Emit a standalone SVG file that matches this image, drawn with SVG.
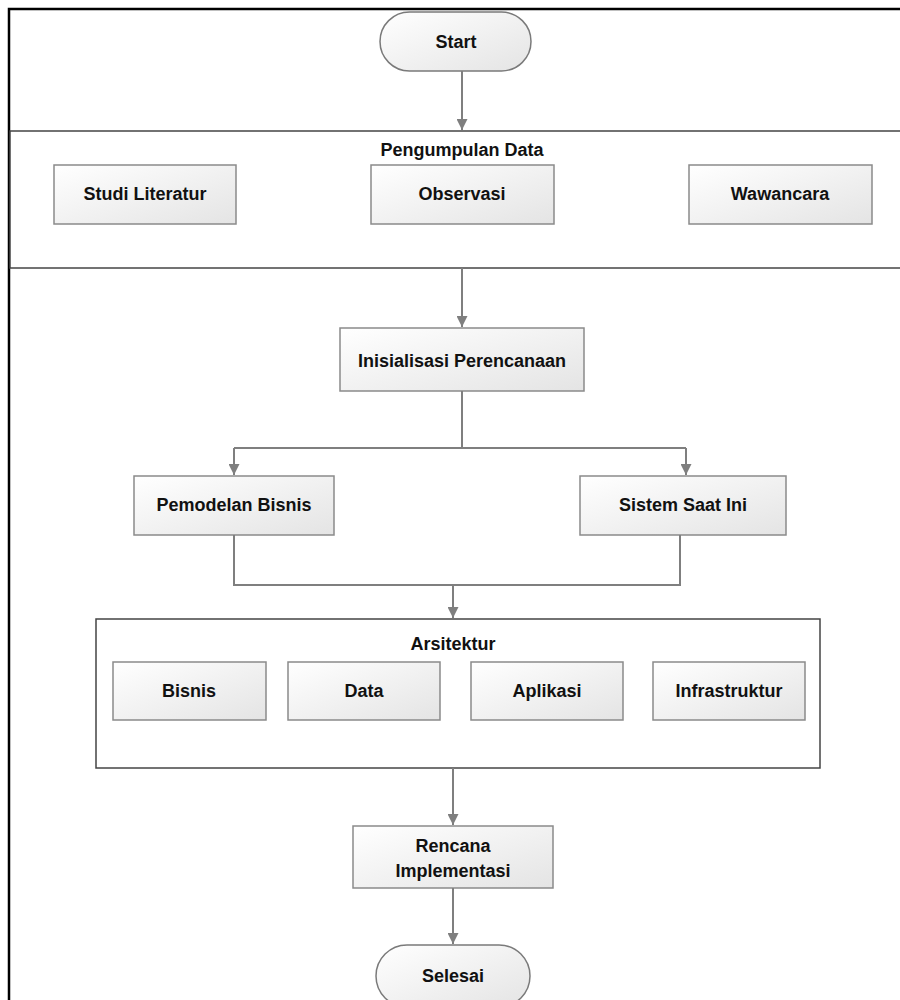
<svg xmlns="http://www.w3.org/2000/svg" width="900" height="1000" viewBox="0 0 900 1000">
<defs>
<linearGradient id="g" x1="0" y1="0" x2="1" y2="1">
<stop offset="0" stop-color="#ffffff"/>
<stop offset="1" stop-color="#e4e4e4"/>
</linearGradient>
<marker id="ah" viewBox="0 0 10 10" refX="10" refY="5" markerWidth="5.5" markerHeight="5.5" orient="auto" markerUnits="strokeWidth">
<path d="M0,0 L10,5 L0,10 z" fill="#7f7f7f"/>
</marker>
</defs>
<style>
.box{fill:url(#g);stroke:#8a8a8a;stroke-width:1.5}
.pill{fill:url(#g);stroke:#7a7a7a;stroke-width:1.5}
.grp{fill:#ffffff;stroke:#444;stroke-width:1.5}
.t{font-family:"Liberation Sans",Arial,sans-serif;font-weight:bold;font-size:18px;fill:#111;text-anchor:middle}
.c{fill:none;stroke:#7f7f7f;stroke-width:2}
.ca{fill:none;stroke:#7f7f7f;stroke-width:2;marker-end:url(#ah)}
</style>
<rect x="0" y="0" width="900" height="1000" fill="#ffffff"/>
<rect id="frame" x="9" y="9" width="900" height="1000" fill="none" stroke="#000" stroke-width="2.5"/>

<g id="start">
<rect class="pill" x="380" y="12" width="151" height="59" rx="29.5"/>
<text class="t" x="456" y="48">Start</text>
</g>

<g id="pengumpulan">
<rect class="grp" x="10" y="131" width="900" height="137"/>
<text class="t" x="462" y="156">Pengumpulan Data</text>
</g>
<g id="studi">
<rect class="box" x="54" y="165" width="182" height="59"/>
<text class="t" x="145" y="200">Studi Literatur</text>
</g>
<g id="observasi">
<rect class="box" x="371" y="165" width="183" height="59"/>
<text class="t" x="462" y="200">Observasi</text>
</g>
<g id="wawancara">
<rect class="box" x="689" y="165" width="183" height="59"/>
<text class="t" x="780" y="200">Wawancara</text>
</g>

<g id="inisialisasi">
<rect class="box" x="340" y="328" width="244" height="63"/>
<text class="t" x="462" y="367">Inisialisasi Perencanaan</text>
</g>

<g id="pemodelan">
<rect class="box" x="134" y="476" width="200" height="59"/>
<text class="t" x="234" y="511">Pemodelan Bisnis</text>
</g>
<g id="sistem">
<rect class="box" x="580" y="476" width="206" height="59"/>
<text class="t" x="683" y="511">Sistem Saat Ini</text>
</g>

<g id="arsitektur">
<rect class="grp" x="96" y="619" width="724" height="149"/>
<text class="t" x="453" y="650">Arsitektur</text>
</g>
<g id="bisnis">
<rect class="box" x="113" y="662" width="153" height="58"/>
<text class="t" x="189" y="697">Bisnis</text>
</g>
<g id="data">
<rect class="box" x="288" y="662" width="152" height="58"/>
<text class="t" x="364" y="697">Data</text>
</g>
<g id="aplikasi">
<rect class="box" x="471" y="662" width="152" height="58"/>
<text class="t" x="547" y="697">Aplikasi</text>
</g>
<g id="infrastruktur">
<rect class="box" x="653" y="662" width="152" height="58"/>
<text class="t" x="729" y="697">Infrastruktur</text>
</g>

<g id="rencana">
<rect class="box" x="353" y="826" width="200" height="62"/>
<text class="t" x="453" y="852">Rencana</text>
<text class="t" x="453" y="877">Implementasi</text>
</g>

<g id="selesai">
<rect class="pill" x="376" y="945" width="154" height="62" rx="31"/>
<text class="t" x="453" y="982">Selesai</text>
</g>

<g id="connectors">
<path class="ca" d="M462,71 V130"/>
<path class="ca" d="M462,268 V327"/>
<path class="c" d="M462,391 V448 M234,448 H686"/>
<path class="ca" d="M234,448 V475"/>
<path class="ca" d="M686,448 V475"/>
<path class="c" d="M234,535 V585 H680 V535"/>
<path class="ca" d="M453,585 V618"/>
<path class="ca" d="M453,768 V825"/>
<path class="ca" d="M453,888 V944"/>
</g>
</svg>
